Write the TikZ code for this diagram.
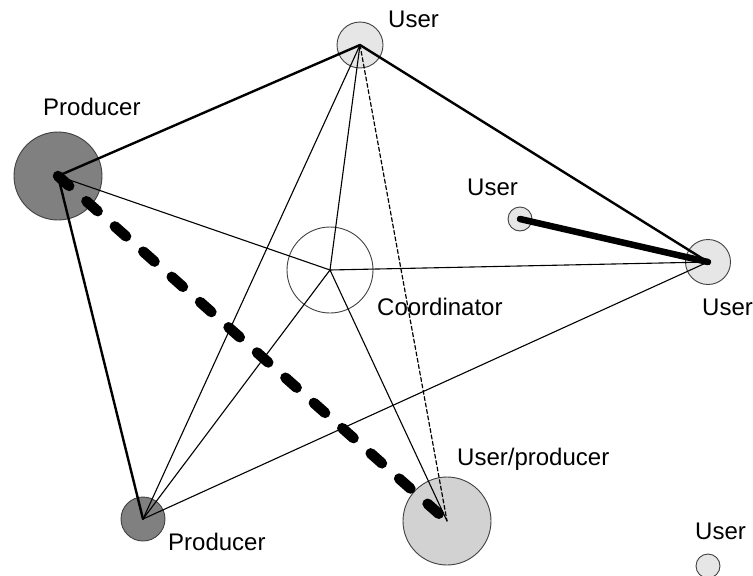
\documentclass[tikz,border=0pt]{standalone}
\usepackage{fontspec}
\setmainfont{Liberation Sans}
\definecolor{prodgray}{HTML}{808080}
\definecolor{mixgray}{HTML}{D2D2D2}
\definecolor{usergray}{HTML}{E6E6E6}
\tikzset{
	site/.style={circle,draw=black!75,line width=0.9pt,inner sep=0pt,minimum size=#1},
	lbl/.style={anchor=base west,inner sep=0pt},
	weak/.style={line width=1.1pt},
	strong/.style={line width=2.4pt},
	heavy/.style={line width=6.5pt},
	heavydash/.style={line width=10.5pt,dash pattern=on 15pt off 23pt},
	fine dash/.style={line width=1.2pt,dash pattern=on 4pt off 2.5pt}
}
\begin{document}
\begin{tikzpicture}[x=1pt,y=-1pt,font=\fontsize{24}{28}\selectfont, line join=round, line cap=round]
		\useasboundingbox (0,0) rectangle (753,576);
		% sites
		\node[site=88pt,fill=prodgray] (prodA) at (58,176) {};
		\node[site=46pt,fill=usergray] (userT) at (360,45) {};
		\node[site=86pt] (coord) at (330,270) {};
		\node[site=24pt,fill=usergray] (userS) at (520,219) {};
		\node[site=45pt,fill=usergray] (userR) at (708,262) {};
		\node[site=44pt,fill=prodgray] (prodB) at (143,519) {};
		\node[site=88pt,fill=mixgray] (mix) at (447,521) {};
		\node[site=24pt,fill=usergray] (userB) at (708,566) {};
		% links
		\draw[strong] (prodA.center)--(userT.center)--(userR.center);
		\draw[strong] (prodA.center)--(prodB.center);
		\draw[weak] (prodA.center)--(coord.center)--(userR.center);
		\draw[weak] (coord.center)--(userT.center);
		\draw[weak] (coord.center)--(prodB.center);
		\draw[weak] (coord.center)--(mix.center);
		\draw[weak] (userT.center)--(prodB.center)--(userR.center);
		\draw[fine dash] (userT.center)--(mix.center);
		\draw[heavy] (userS.center)--(userR.center);
		\draw[heavydash] (prodA.center)--(mix.center);
		% labels
		\node[lbl] (lprodA) at (43,115) {Producer};
		\node[lbl] (luserT) at (388,27) {User};
		\node[lbl] (luserS) at (467,195) {User};
		\node[lbl] (lcoord) at (377,315) {Coordinator};
		\node[lbl] (luserR) at (702,315) {User};
		\node[lbl] (lmix) at (457,465) {User/producer};
		\node[lbl] (lprodB) at (168,550) {Producer};
		\node[lbl] (luserB) at (695,539) {User};
	\end{tikzpicture}
\end{document}
